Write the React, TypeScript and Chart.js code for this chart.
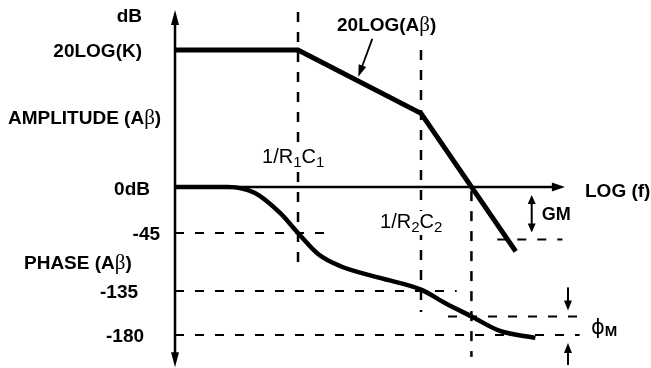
import React, { useEffect, useRef } from 'react';
import { Chart, registerables, LinearScale } from 'chart.js';

// Frequency is plotted in decades of log(f), measured from the vertical axis.
const X_MIN = -1.423;
const X_MAX = 3.87;
const AXIS_END_LOGF = 3.17;

// Shared vertical range in dB (amplitude); the phase axis is laid onto the same span.
const DB_MIN = -52.85;
const DB_MAX = 54.6;
const AXIS_TOP_DB = 51.7;
const AXIS_BOTTOM_DB = -52.6;

// Break frequencies and unity-gain crossing
const POLE_1 = 1; // 1/R1C1
const POLE_2 = 2; // 1/R2C2
const CROSSOVER = 2.41;

// 20LOG(Aβ) asymptotes
const K_DB = 40;
const GAIN_LOGF = [0, 1, 2, 2.77];
const GAIN_DB = [40, 40, 21.5, -18.8];

// Phase of Aβ in degrees
const PHASE_LOGF = [0, 0.43, 0.65, 0.854, 1.0, 1.163, 1.341, 1.667, 2.0, 2.195, 2.41, 2.642, 2.93];
const PHASE_DEG = [0, 0, -5.9, -25.4, -45, -77.6, -96.2, -114.8, -133, -147.3, -161, -175.9, -183];

// Labelled phase values and how far along the shared axis each one sits (dB-equivalent)
const PHASE_STOPS = [0, -45, -135, -180];
const PHASE_SPAN = [0, -13.43, -30.36, -43.2];
const PHASE_TICKS = [-45, -135, -180];
const PHASE_TICK_END = [1.22, 2.29, 3.29];

// Margins
const PHASE_MARGIN_DEG = -161;
const PHASE_MARGIN_FROM = 2.22;
const MARGIN_LINE_END = 3.29;
const GAIN_MARGIN_DB = -15.3;
const GAIN_MARGIN_FROM = 2.62;
const GAIN_MARGIN_TO = 3.15;
const GM_ARROW_LOGF = 2.9;
const PM_ARROW_LOGF = 3.195;

// Vertical guide extents (dB)
const POLE_1_GUIDE = [51.1, -24.2];
const POLE_2_GUIDE = [40, -36.5];
const CROSSOVER_GUIDE = [-1.2, -49.6];

// Pointer from the 20LOG(Aβ) caption onto the gain line
const POINTER_LOGF = 1.49;
const POINTER_DB = 31;

const SANS = '"Liberation Sans", Arial, sans-serif';
const SERIF = '"Liberation Serif", "DejaVu Serif", serif';
const BOLD = `bold 19px ${SANS}`;
const REG = `20px ${SANS}`;
const SUB = `15px ${SANS}`;
const BETA = `21px ${SERIF}`;

function warpPhase(deg: number): number {
  const s = PHASE_STOPS;
  const p = PHASE_SPAN;
  let i = 0;
  if (deg <= s[s.length - 1]) {
    i = s.length - 2;
  } else {
    for (i = 0; i < s.length - 2; i++) if (deg >= s[i + 1]) break;
  }
  const t = (deg - s[i]) / (s[i + 1] - s[i]);
  return p[i] + t * (p[i + 1] - p[i]);
}

// Linear scale whose labelled phase values are spaced like the drawn tick rows
class PhaseScale extends LinearScale {
  static id = 'phase';
  static defaults = {};
  getPixelForValue(value: number) {
    return super.getPixelForValue(warpPhase(value));
  }
}

Chart.register(...registerables, PhaseScale);

type Run = { t: string; font: string; dy?: number };

function measureRuns(ctx: CanvasRenderingContext2D, runs: Run[]) {
  return runs.map((r) => {
    ctx.font = r.font;
    return ctx.measureText(r.t).width;
  });
}

function drawRuns(
  ctx: CanvasRenderingContext2D,
  x: number,
  baseline: number,
  runs: Run[],
  align: 'left' | 'right' = 'left',
  clear = false,
) {
  const widths = measureRuns(ctx, runs);
  const total = widths.reduce((a, b) => a + b, 0);
  let cx = align === 'right' ? x - total : x;
  if (clear) {
    ctx.save();
    ctx.fillStyle = '#fff';
    ctx.fillRect(cx - 2, baseline - 17, total + 4, 24);
    ctx.restore();
  }
  ctx.textAlign = 'left';
  ctx.textBaseline = 'alphabetic';
  runs.forEach((r, i) => {
    ctx.font = r.font;
    ctx.fillText(r.t, cx, baseline + (r.dy || 0));
    cx += widths[i];
  });
}

function head(ctx: CanvasRenderingContext2D, tx: number, ty: number, ux: number, uy: number, len: number, half: number) {
  const bx = tx - ux * len;
  const by = ty - uy * len;
  ctx.beginPath();
  ctx.moveTo(tx, ty);
  ctx.lineTo(bx - uy * half, by + ux * half);
  ctx.lineTo(bx + uy * half, by - ux * half);
  ctx.closePath();
  ctx.fill();
}

function arrow(ctx: CanvasRenderingContext2D, x0: number, y0: number, x1: number, y1: number, len: number, half: number) {
  const dx = x1 - x0;
  const dy = y1 - y0;
  const L = Math.hypot(dx, dy);
  const ux = dx / L;
  const uy = dy / L;
  ctx.beginPath();
  ctx.moveTo(x0, y0);
  ctx.lineTo(x1 - ux * len * 0.7, y1 - uy * len * 0.7);
  ctx.stroke();
  head(ctx, x1, y1, ux, uy, len, half);
}

const bodeDecor = {
  id: 'bodeDecor',
  beforeDatasetsDraw(chart: any) {
    const { ctx, scales } = chart;
    const x = scales.x;
    const yA = scales.yA;
    const ax = x.getPixelForValue(0);
    const ay = yA.getPixelForValue(0);
    const top = yA.getPixelForValue(AXIS_TOP_DB);
    const bottom = yA.getPixelForValue(AXIS_BOTTOM_DB);
    const right = x.getPixelForValue(AXIS_END_LOGF);
    ctx.save();
    ctx.strokeStyle = '#000';
    ctx.fillStyle = '#000';
    ctx.lineWidth = 2.5;
    ctx.beginPath();
    ctx.moveTo(ax, top + 12);
    ctx.lineTo(ax, bottom - 12);
    ctx.moveTo(ax, ay);
    ctx.lineTo(right - 10, ay);
    ctx.stroke();
    head(ctx, ax, top, 0, -1, 15, 4);
    head(ctx, ax, bottom, 0, 1, 15, 4);
    head(ctx, right, ay, 1, 0, 13, 4.5);
    ctx.restore();
  },
  afterDatasetsDraw(chart: any) {
    const { ctx, scales } = chart;
    const x = scales.x;
    const yA = scales.yA;
    const yP = scales.yP;
    const ax = x.getPixelForValue(0);
    const ay = yA.getPixelForValue(0);
    ctx.save();
    ctx.strokeStyle = '#000';
    ctx.fillStyle = '#000';

    // Gain margin double arrow
    ctx.lineWidth = 2;
    const gx = x.getPixelForValue(GM_ARROW_LOGF);
    const gmY = yA.getPixelForValue(GAIN_MARGIN_DB);
    const gTop = ay + 8;
    const gBot = gmY - 7;
    ctx.beginPath();
    ctx.moveTo(gx, gTop + 7);
    ctx.lineTo(gx, gBot - 7);
    ctx.stroke();
    head(ctx, gx, gTop, 0, -1, 9, 4);
    head(ctx, gx, gBot, 0, 1, 9, 4);

    // Phase margin arrows pointing in from outside
    const px = x.getPixelForValue(PM_ARROW_LOGF);
    const pmY = yP.getPixelForValue(PHASE_MARGIN_DEG);
    const p180 = yP.getPixelForValue(-180);
    arrow(ctx, px, pmY - 29, px, pmY - 6, 10, 4);
    arrow(ctx, px, p180 + 30, px, p180 + 8, 10, 4);

    // Pointer from caption to the gain line
    const tipX = x.getPixelForValue(POINTER_LOGF);
    const tipY = yA.getPixelForValue(POINTER_DB) - 4;
    ctx.lineWidth = 1.8;
    arrow(ctx, tipX + 14, tipY - 38, tipX, tipY, 12, 4);

    // Amplitude axis text
    ctx.fillStyle = '#000';
    drawRuns(ctx, ax - 33, 22, [{ t: 'dB', font: BOLD }], 'right');
    drawRuns(ctx, ax - 33, yA.getPixelForValue(K_DB) + 7, [{ t: '20LOG(K)', font: BOLD }], 'right');
    drawRuns(ctx, 8, 124, [
      { t: 'AMPLITUDE (A', font: BOLD },
      { t: 'β', font: BETA },
      { t: ')', font: BOLD },
    ]);
    drawRuns(ctx, ax - 25, ay + 8, [{ t: '0dB', font: BOLD }], 'right');

    // Phase axis text
    const tickRight = [ax - 15, ax - 37, ax - 31];
    PHASE_TICKS.forEach((v, i) => {
      drawRuns(ctx, tickRight[i], yP.getPixelForValue(v) + 7, [{ t: String(v), font: BOLD }], 'right');
    });
    drawRuns(ctx, 24, 269, [
      { t: 'PHASE (A', font: BOLD },
      { t: 'β', font: BETA },
      { t: ')', font: BOLD },
    ]);

    // Break frequency captions, set over their guide lines
    drawRuns(
      ctx,
      x.getPixelForValue(POLE_1) - 36,
      163,
      [
        { t: '1/R', font: REG },
        { t: '1', font: SUB, dy: 4 },
        { t: 'C', font: REG },
        { t: '1', font: SUB, dy: 4 },
      ],
      'left',
      true,
    );
    drawRuns(
      ctx,
      x.getPixelForValue(POLE_2) - 41,
      228,
      [
        { t: '1/R', font: REG },
        { t: '2', font: SUB, dy: 4 },
        { t: 'C', font: REG },
        { t: '2', font: SUB, dy: 4 },
      ],
      'left',
      true,
    );

    drawRuns(ctx, 337, 31, [
      { t: '20LOG(A', font: BOLD },
      { t: 'β', font: BETA },
      { t: ')', font: BOLD },
    ]);
    drawRuns(ctx, 585, ay + 10, [{ t: 'LOG (f)', font: BOLD }]);
    drawRuns(ctx, gx + 10, 220, [{ t: 'GM', font: `bold 18px ${SANS}` }]);
    drawRuns(ctx, 591, 334, [
      { t: '\u03D5', font: `21px "DejaVu Sans", sans-serif` },
      { t: 'M', font: `bold 15px ${SANS}`, dy: 2 },
    ]);
    ctx.restore();
  },
};

function pts(xs: number[], ys: number[]) {
  return xs.map((v, i) => ({ x: v, y: ys[i] }));
}

function guide(data: { x: number; y: number }[], yAxisID: string, dash: number[], width = 2) {
  return {
    data,
    yAxisID,
    borderColor: '#000',
    borderWidth: width,
    borderDash: dash,
    pointRadius: 0,
    fill: false,
    tension: 0,
  };
}

export default function App() {
  const ref = useRef<HTMLCanvasElement>(null);

  useEffect(() => {
    if (!ref.current) return;
    const vDash = [10, 10];
    const hDash = [9, 11];
    const datasets: any[] = [
      {
        data: pts(GAIN_LOGF, GAIN_DB),
        yAxisID: 'yA',
        borderColor: '#000',
        borderWidth: 5,
        borderJoinStyle: 'miter',
        borderCapStyle: 'butt',
        pointRadius: 0,
        fill: false,
        tension: 0,
      },
      {
        data: pts(PHASE_LOGF, PHASE_DEG),
        yAxisID: 'yP',
        borderColor: '#000',
        borderWidth: 4.5,
        cubicInterpolationMode: 'monotone',
        pointRadius: 0,
        fill: false,
      },
      guide(pts([POLE_1, POLE_1], POLE_1_GUIDE), 'yA', vDash, 2.5),
      guide(pts([POLE_2, POLE_2], POLE_2_GUIDE), 'yA', vDash, 2.5),
      guide(pts([CROSSOVER, CROSSOVER], CROSSOVER_GUIDE), 'yA', vDash, 2.5),
      ...PHASE_TICKS.map((v, i) => guide(pts([0, PHASE_TICK_END[i]], [v, v]), 'yP', hDash)),
      guide(pts([PHASE_MARGIN_FROM, MARGIN_LINE_END], [PHASE_MARGIN_DEG, PHASE_MARGIN_DEG]), 'yP', hDash),
      guide(pts([GAIN_MARGIN_FROM, GAIN_MARGIN_TO], [GAIN_MARGIN_DB, GAIN_MARGIN_DB]), 'yA', hDash),
    ];

    const chart = new Chart(ref.current, {
      type: 'line',
      data: { datasets },
      options: {
        responsive: false,
        maintainAspectRatio: false,
        animation: false,
        events: [],
        layout: { padding: 0 },
        plugins: { legend: { display: false }, tooltip: { enabled: false } },
        scales: {
          x: { type: 'linear', min: X_MIN, max: X_MAX, display: false },
          yA: { type: 'linear', position: 'left', min: DB_MIN, max: DB_MAX, display: false },
          yP: { type: 'phase', position: 'right', min: DB_MIN, max: DB_MAX, display: false },
        },
      } as any,
      plugins: [bodeDecor],
    } as any);
    return () => chart.destroy();
  }, []);

  return (
    <div style={{ position: 'absolute', left: 0, top: 0, width: 651, height: 368, background: '#fff' }}>
      <canvas ref={ref} width={651} height={368} style={{ display: 'block' }} />
    </div>
  );
}
